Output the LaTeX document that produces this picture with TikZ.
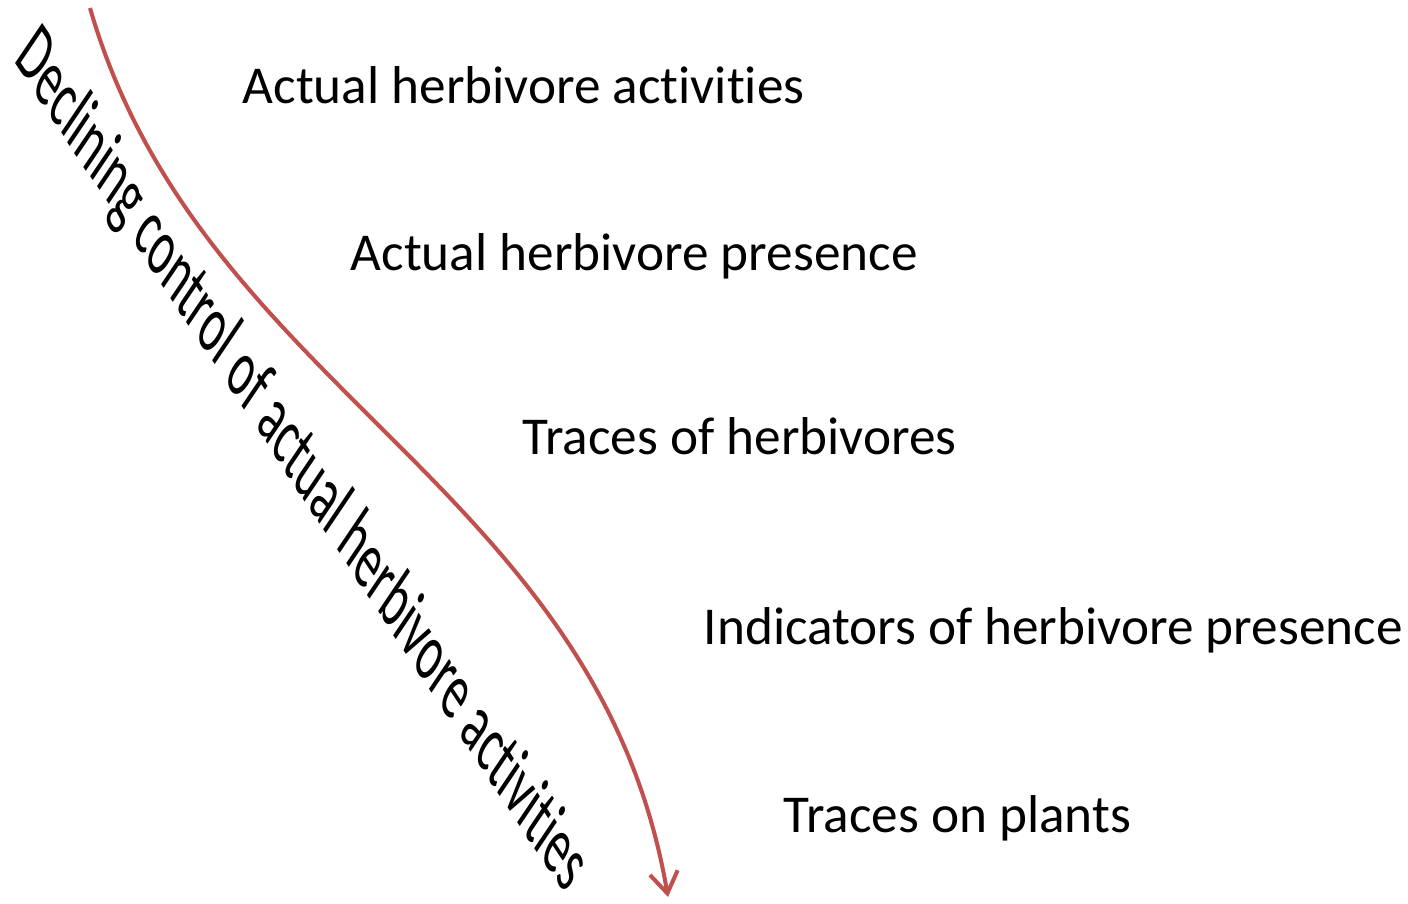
\documentclass[tikz,border=0pt]{standalone}
\usepackage{fontspec}
\setmainfont{Carlito}[Ligatures=NoCommon]
\usepackage{graphicx}
\usepackage{tikz}
\usetikzlibrary{arrows.meta, positioning}

\definecolor{arrowred}{RGB}{192,80,77}

\begin{document}
\begin{tikzpicture}[
            level/.style={anchor=base west, inner sep=0pt, font=\fontsize{15.15}{18}\selectfont},
            slope/.style={transform shape, anchor=base west, inner sep=0pt, font=\fontsize{21.5}{26}\selectfont},
            decline/.style={-{Straight Barb[length=6pt, width=8pt, line width=1.15pt]}, line width=1.15pt, arrowred}
        ]
            \useasboundingbox (0,0) rectangle (14.08,9.03);

            % Levels of evidence (top to bottom)
            \node[level] (act)   at (2.42,7.99) {Actual herbivore activities};
            \node[level] (pres)  at (3.50,6.32) {Actual herbivore presence};
            \node[level] (trace) at (5.22,4.48) {Traces of herbivores};
            \node[level] (ind)   at (7.03,2.58) {Indicators of herbivore presence};
            \node[level] (plant) at (7.83,0.70) {Traces on plants};

            % Declining control arrow
            \coordinate (start) at (0.90,8.95);
            \coordinate (stop)  at (6.68,0.06);
            \draw[decline] (start) .. controls (2.01,5.11) and (5.97,4.20) .. (stop);

            % Sloped (skewed) label
            \begin{scope}[shift={(0.13,8.43)}, cm={0.552,-0.834,0.559,0.829,(0,0)}]
                \node[slope] (ctrl) at (0,0)
                    {\resizebox{10.01cm}{\height}{Declining control of actual herbivore activities}};
            \end{scope}

        \end{tikzpicture}
\end{document}
